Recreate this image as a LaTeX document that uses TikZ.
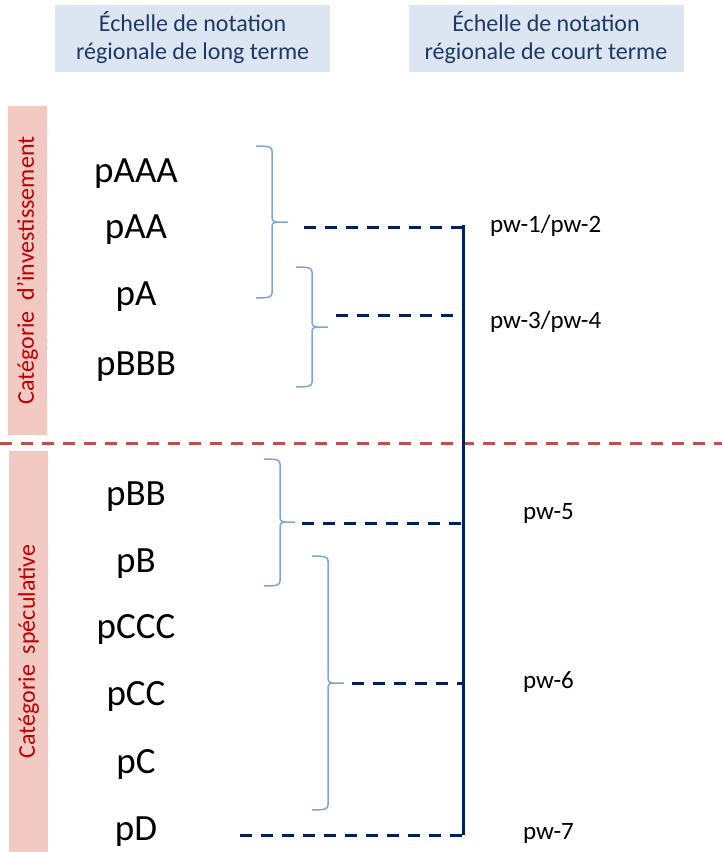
\documentclass[tikz,border=0pt]{standalone}
\usepackage{fontspec}
\setmainfont{Carlito}
\definecolor{hdrfill}{HTML}{DCE6F2}
\definecolor{hdrtext}{HTML}{1F3864}
\definecolor{barfill}{HTML}{F2CAC3}
\definecolor{bartext}{HTML}{C00000}
\definecolor{sepred}{HTML}{C0504D}
\definecolor{navy}{HTML}{002060}
\definecolor{bracecol}{HTML}{7FA6D8}
\newcommand\curlyb[6]{%
  \draw[bracestyle] (#1,#3) .. controls (#2-3,#3) and (#2,#3+1) .. (#2,#3+5) -- (#2,#4-5) .. controls (#2,#4-1) and (#2+2,#4) .. (#2+5,#4) -- (#6,#4);
  \draw[bracestyle] (#2+5,#4) .. controls (#2+2,#4) and (#2,#4+1) .. (#2,#4+5) -- (#2,#5-5) .. controls (#2,#5-1) and (#2-3,#5) .. (#1,#5);}
\begin{document}
\begin{tikzpicture}[x=1pt,y=-1pt,
  header/.style={fill=hdrfill,text=hdrtext,font=\fontsize{24}{28}\selectfont,align=center,minimum width=275,minimum height=67,inner sep=0},
  catbar/.style={fill=barfill,text=bartext,font=\fontsize{24}{28}\selectfont,rotate=90,minimum height=39,inner sep=0},
  rating/.style={font=\fontsize{37}{40}\selectfont,anchor=base,inner sep=0},
  pwlabel/.style={font=\fontsize{25}{28}\selectfont,anchor=base west,inner sep=0},
  bracestyle/.style={draw=bracecol,line width=1.5pt},
  link/.style={draw=navy,line width=3pt,dash pattern=on 12pt off 9pt},
  spineline/.style={draw=navy,line width=3pt},
  sepline/.style={draw=sepred,line width=3pt,dash pattern=on 12pt off 9pt}]
\useasboundingbox[fill=white] (0,0) rectangle (722,852);

% headers
\node[header] (hl) at (192.6,38) {Échelle de notation\\régionale de long terme};
\node[header] (hr) at (546,38) {Échelle de notation\\régionale de court terme};

% category bars
\node[catbar,minimum width=329] (ci) at (27.5,270.5) {Catégorie~~d’investissement};
\node[catbar,minimum width=401] (cs) at (28.5,651.5) {Catégorie~~spéculative};

% separator
\coordinate (sepL) at (0,443);
\coordinate (sepR) at (722,443);
\draw[sepline] (sepL) -- (sepR);

% ratings
\node[rating] (pAAA) at (136,182) {pAAA};
\node[rating] (pAA) at (136,238) {pAA};
\node[rating] (pA) at (136,305) {pA};
\node[rating] (pBBB) at (136,375) {pBBB};
\node[rating] (pBB) at (136,505) {pBB};
\node[rating] (pB) at (136,572) {pB};
\node[rating] (pCCC) at (136,638) {pCCC};
\node[rating] (pCC) at (136,705) {pCC};
\node[rating] (pC) at (136,773) {pC};
\node[rating] (pD) at (136,840) {pD};

% braces
\curlyb{256}{272}{146}{222}{298}{288}
\curlyb{296}{312}{267}{327}{387}{328}
\curlyb{264}{280}{459}{522}{586}{295}
\curlyb{312}{328}{556}{683}{810}{344}

% spine and junctions
\coordinate (top) at (463,225);
\coordinate (j1) at (463,227);
\coordinate (j2) at (463,315);
\coordinate (j3) at (463,523);
\coordinate (j4) at (463,683);
\coordinate (j5) at (463,835);
\draw[spineline] (top) -- (j5);

\coordinate (b1) at (304,227);
\coordinate (b2) at (336,315);
\coordinate (b3) at (302,523);
\coordinate (b4) at (352,683);
\coordinate (b5) at (240,835);
\draw[link] (b1) -- (j1);
\draw[link] (b2) -- (j2);
\draw[link] (b3) -- (j3);
\draw[link] (b4) -- (j4);
\draw[link] (b5) -- (j5);

% short-term labels
\node[pwlabel] (pw12) at (490,232) {pw-1/pw-2};
\node[pwlabel] (pw34) at (490,328) {pw-3/pw-4};
\node[pwlabel] (pw5) at (523,519) {pw-5};
\node[pwlabel] (pw6) at (523,688) {pw-6};
\node[pwlabel] (pw7) at (523,839) {pw-7};
\end{tikzpicture}
\end{document}
